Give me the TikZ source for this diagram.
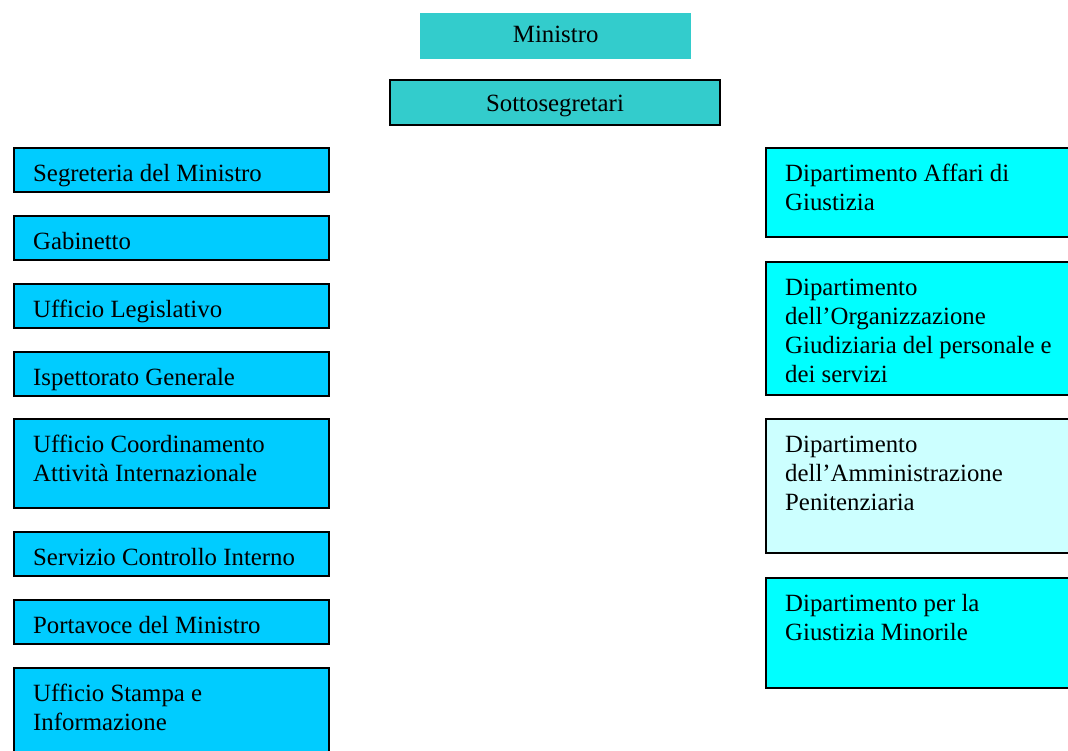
\documentclass[tikz,border=0pt]{standalone}
\usepackage{fontspec}
\setmainfont{Liberation Serif}[Ligatures={NoCommon}]
\newcommand\firststrut{\rule{0pt}{20pt}}
\definecolor{topteal}{HTML}{33CCCC}
\definecolor{staffblue}{HTML}{00CCFF}
\definecolor{deptcyan}{HTML}{00FFFF}
\definecolor{deptpale}{HTML}{CCFFFF}
\begin{document}
\begin{tikzpicture}[x=1pt,y=-1pt,
  box/.style={rectangle,anchor=north west,inner sep=0pt,outer sep=0pt,
    draw=black,line width=1.8pt},
  staff/.style={box,fill=staffblue,minimum width=315pt},
  dept/.style={box,minimum width=309pt},
  boxtext/.style={anchor=north west,inner sep=0pt,align=left,
    font=\fontsize{24.8}{29}\selectfont},
  headtext/.style={anchor=base,inner sep=0pt,font=\fontsize{24.8}{29}\selectfont}]
\useasboundingbox (0,0) rectangle (1068,751);
\clip (0,0) rectangle (1068,751);

% top of the hierarchy
\node[rectangle,anchor=north west,inner sep=0pt,fill=topteal,
  minimum width=271pt,minimum height=46pt] (min) at (420,13) {};
\node[headtext] (minT) at ([yshift=-30pt]min.north) {Ministro};
\node[box,fill=topteal,minimum width=330pt,minimum height=45pt] (sot) at (390,80) {};
\node[headtext] (sotT) at ([yshift=-32pt]sot.north) {Sottosegretari};

% offices directly under the minister (left column)
\node[staff,minimum height=44pt] (seg) at (14,148) {};
\node[staff,minimum height=44pt] (gab) at (14,216) {};
\node[staff,minimum height=44pt] (leg) at (14,284) {};
\node[staff,minimum height=44pt] (isp) at (14,352) {};
\node[staff,minimum height=89pt] (uca) at (14,419) {};
\node[staff,minimum height=44pt] (sci) at (14,532) {};
\node[staff,minimum height=44pt] (por) at (14,600) {};
\node[staff,minimum height=92pt] (usi) at (14,668) {};

\node[boxtext] (segT) at ([shift={(19,13)}]seg.north west) {\firststrut Segreteria del Ministro};
\node[boxtext] (gabT) at ([shift={(19,13)}]gab.north west) {\firststrut Gabinetto};
\node[boxtext] (legT) at ([shift={(19,13)}]leg.north west) {\firststrut Ufficio Legislativo};
\node[boxtext] (ispT) at ([shift={(19,13)}]isp.north west) {\firststrut Ispettorato Generale};
\node[boxtext] (ucaT) at ([shift={(19,13)}]uca.north west) {\firststrut Ufficio Coordinamento\\Attività Internazionale};
\node[boxtext] (sciT) at ([shift={(19,13)}]sci.north west) {\firststrut Servizio Controllo Interno};
\node[boxtext] (porT) at ([shift={(19,13)}]por.north west) {\firststrut Portavoce del Ministro};
\node[boxtext] (usiT) at ([shift={(19,13)}]usi.north west) {\firststrut Ufficio Stampa e\\Informazione};

% departments (right column)
\node[dept,fill=deptcyan,minimum height=89pt] (daf) at (766,148) {};
\node[dept,fill=deptcyan,minimum height=133pt] (dog) at (766,262) {};
\node[dept,fill=deptpale,minimum height=134pt] (dap) at (766,419) {};
\node[dept,fill=deptcyan,minimum height=110pt] (dgm) at (766,578) {};

\node[boxtext] (dafT) at ([shift={(19,13)}]daf.north west) {\firststrut Dipartimento Affari di\\Giustizia};
\node[boxtext] (dogT) at ([shift={(19,13)}]dog.north west) {\firststrut Dipartimento\\dell’Organizzazione\\Giudiziaria del personale e\\dei servizi};
\node[boxtext] (dapT) at ([shift={(19,13)}]dap.north west) {\firststrut Dipartimento\\dell’Amministrazione\\Penitenziaria};
\node[boxtext] (dgmT) at ([shift={(19,13)}]dgm.north west) {\firststrut Dipartimento per la\\Giustizia Minorile};
\end{tikzpicture}
\end{document}
